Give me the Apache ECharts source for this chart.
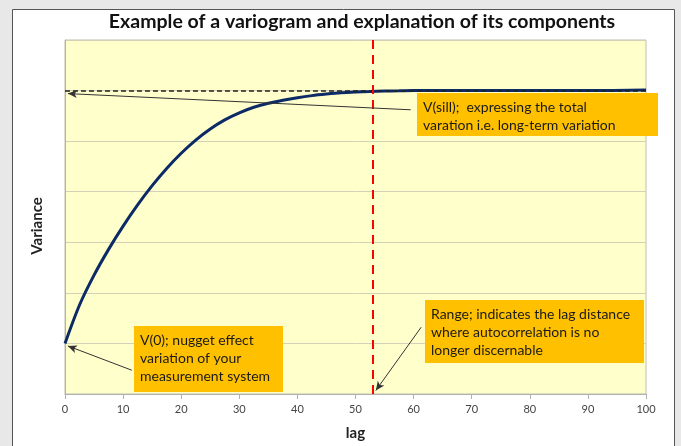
<!DOCTYPE html>
<html>
<head>
<meta charset="utf-8">
<script src="https://cdn.jsdelivr.net/npm/echarts@6/dist/echarts.min.js"></script>
<style>
  html, body { margin: 0; padding: 0; background: #e8e8e8; }
  #chart { width: 681px; height: 446px; }
</style>
</head>
<body>
<div id="chart"></div>
<script>
// variogram curve
const lags = [0, 2.5, 5, 7.5, 10, 12.5, 15, 17.5, 20, 22.5, 25, 27.5, 30, 32.5, 35, 37.5, 40, 42.5, 45, 47.5, 50, 52.5, 55, 57.5, 60, 70, 80, 90, 100]
const variance = [1.0, 1.76, 2.35, 2.86, 3.32, 3.74, 4.12, 4.46, 4.76, 5.02, 5.24, 5.42, 5.56, 5.67, 5.75, 5.81, 5.86, 5.90, 5.93, 5.955, 5.97, 5.98, 5.99, 5.995, 6.0, 6.0, 6.0, 6.0, 6.01]
const xTicks = [0, 10, 20, 30, 40, 50, 60, 70, 80, 90, 100]

const sill = 6
const range = 53

// callout boxes: anchor in data units, size in px
const notes = [
  { text: 'V(sill);  expressing the total\nvaration i.e. long-term variation', at: [60.6, 5.96], w: 241, h: 43,
    from: [59.5, 5.62], to: [0.5, 5.94] },
  { text: 'V(0); nugget effect\nvariation of your\nmeasurement system', at: [11.9, 1.35], w: 149, h: 66,
    from: [11.5, 0.47], to: [0.5, 0.95] },
  { text: 'Range; indicates the lag distance\nwhere autocorrelation is no\nlonger discernable', at: [62.0, 1.86], w: 219, h: 63,
    from: [61.3, 1.32], to: [53.5, 0.07] }
]

const font = 'Lato, "Open Sans", sans-serif'
const chart = echarts.init(document.getElementById('chart'))

const arrows = notes.map(n => [
  { coord: n.from, symbol: 'none', lineStyle: { color: '#333', width: 1, type: 'solid' } },
  { coord: n.to, symbol: 'arrow', symbolSize: [6, 9] }
])

chart.setOption({
  backgroundColor: '#e8e8e8',
  animation: false,
  textStyle: { fontFamily: font },
  title: {
    text: 'Example of a variogram and explanation of its components',
    left: 357,
    textAlign: 'center',
    top: 7,
    textStyle: { fontSize: 19.5, fontWeight: 'bold', color: '#111', fontFamily: font }
  },
  grid: {
    left: 65, right: 35, top: 40, bottom: 52,
    show: true,
    backgroundColor: '#ffffcc',
    borderColor: '#c0c0b0',
    borderWidth: 1
  },
  xAxis: {
    type: 'value',
    min: 0, max: 100, interval: 10,
    name: 'lag',
    nameLocation: 'middle',
    nameGap: 32,
    nameTextStyle: { fontSize: 15, fontWeight: 'bold', color: '#222' },
    axisLine: { lineStyle: { color: '#b0b0b0' } },
    axisTick: { show: true, length: 5, lineStyle: { color: '#b0b0b0' } },
    axisLabel: { color: '#444', fontSize: 11, margin: 10,
      formatter: v => xTicks.includes(v) ? String(v) : '' },
    splitLine: { show: false }
  },
  yAxis: {
    type: 'value',
    min: 0, max: 7, interval: 1,
    name: 'Variance',
    nameLocation: 'middle',
    nameGap: 20,
    nameRotate: 90,
    nameTextStyle: { fontSize: 15, fontWeight: 'bold', color: '#222', padding: [0, 0, 0, -18] },
    axisLine: { show: true, lineStyle: { color: '#b0b0b0' } },
    axisTick: { show: false },
    axisLabel: { show: false },
    splitLine: { lineStyle: { color: '#d2d2b8' } }
  },
  series: [
    {
      type: 'line',
      data: lags.map((l, i) => [l, variance[i]]),
      smooth: 0.3,
      showSymbol: false,
      lineStyle: { color: '#0b2a66', width: 3 },
      z: 3,
      markLine: {
        silent: true,
        symbol: 'none',
        label: { show: false },
        data: [
          { yAxis: sill, lineStyle: { color: '#222', width: 1.5, type: [5, 3] } },
          { xAxis: range, lineStyle: { color: '#ff0000', width: 2, type: [9, 6] } },
          ...arrows
        ]
      }
    }
  ]
})

// callout boxes placed via the chart's own scales
const graphics = [
  { type: 'rect', left: 12, top: 9, shape: { width: 662, height: 460 },
    style: { fill: '#ffffff', stroke: '#555', lineWidth: 1 }, z: -10, silent: true }
]
notes.forEach(n => {
  const [px, py] = chart.convertToPixel({ gridIndex: 0 }, n.at)
  graphics.push({
    type: 'group', x: Math.round(px), y: Math.round(py), z: 50,
    children: [
      { type: 'rect', shape: { width: n.w, height: n.h }, style: { fill: '#ffc000' } },
      { type: 'text', x: 6, y: 5,
        style: { text: n.text, font: '14px ' + font, fill: '#1a1a1a', lineHeight: 18 } }
    ]
  })
})
chart.setOption({ graphic: graphics })
</script>
</body>
</html>
